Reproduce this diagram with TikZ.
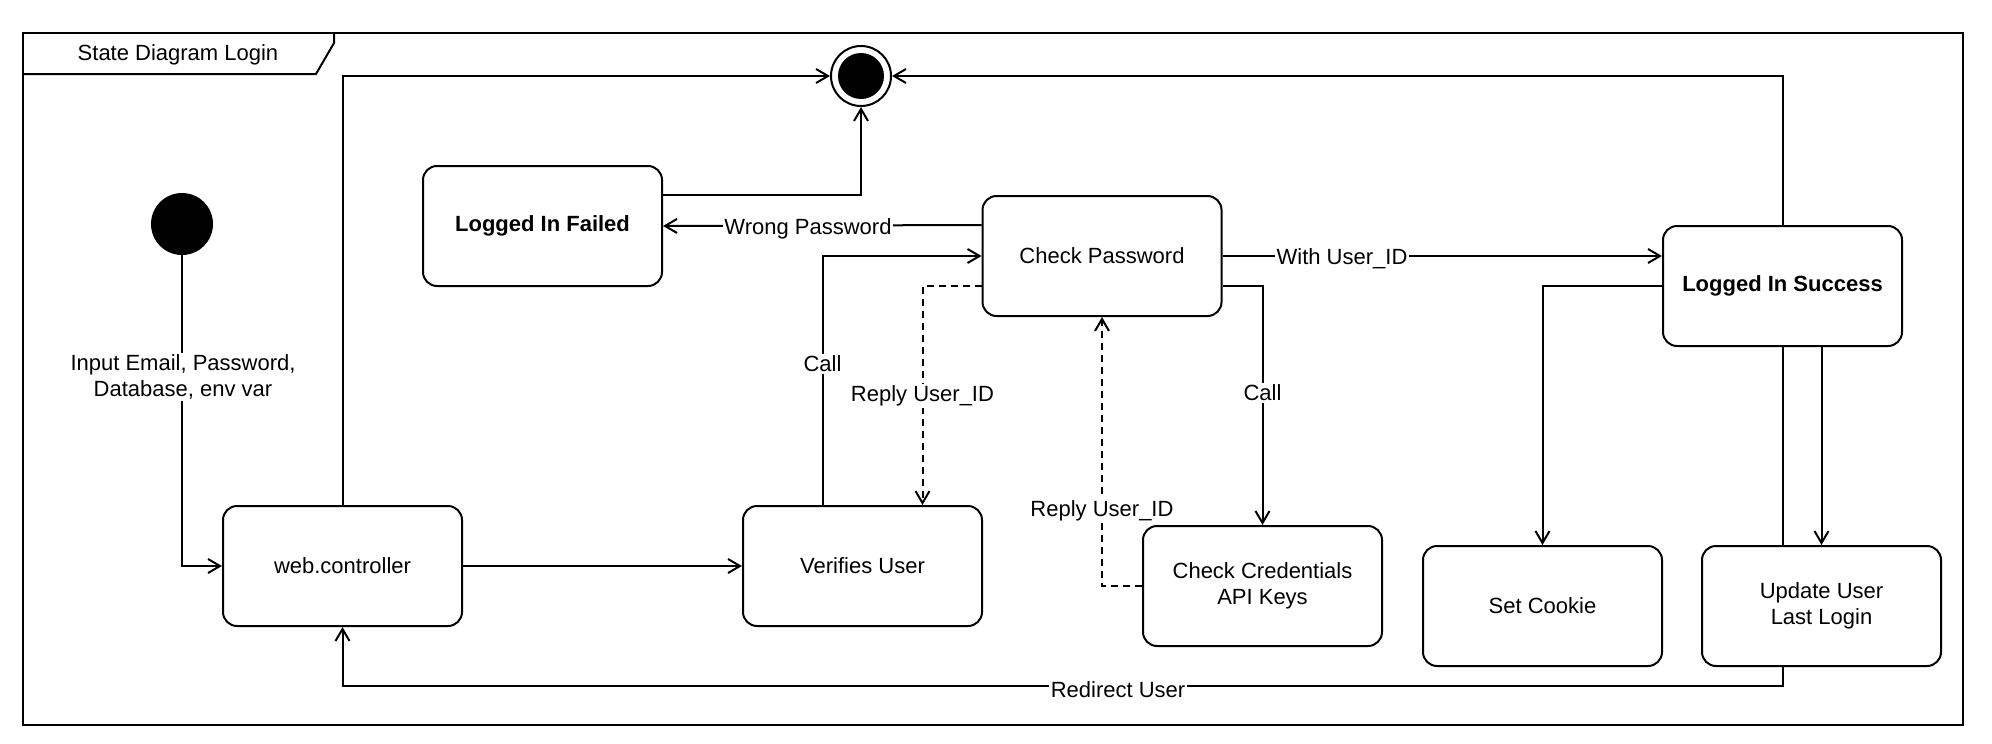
\documentclass[tikz,border=0pt]{standalone}
\usepackage{fontspec}
\setmainfont{Liberation Sans}
\usetikzlibrary{arrows.meta,backgrounds}
\begin{document}
\begin{tikzpicture}[x=1pt,y=-1pt,
  txt/.style={font=\fontsize{22pt}{26pt}\selectfont},
  statebox/.style={txt, draw, line width=2pt, rounded corners=14pt, fill=white, minimum width=239pt, minimum height=120pt, align=center, inner sep=0pt},
  conn/.style={line width=2pt, -{Straight Barb[length=12pt,width=14pt]}},
  dashconn/.style={conn, dash pattern=on 7pt off 5pt},
  lbl/.style={txt, fill=white, inner sep=1.5pt, align=center},
]
\useasboundingbox (0,0) rectangle (1992,744);

% frame
\draw[line width=2pt] (23,33) rectangle (1963,725);
\draw[line width=2pt] (23,74) -- (316,74) -- (334,43) -- (334,33);
\node[txt] (title) at (178,55) {State Diagram Login};

% states
\node[circle, fill=black, minimum size=62pt, inner sep=0pt] (init) at (182,224) {};
\node[circle, draw, line width=2pt, fill=white, minimum size=60pt, inner sep=0pt,
  path picture={\fill[black] (path picture bounding box.center) circle (23pt);}] (fin) at (861,76) {};

\node[statebox] (wc)  at (342.5,566) {web.controller};
\node[statebox] (lif) at (542.5,226) {\bfseries Logged In Failed};
\node[statebox] (cp)  at (1102,256) {Check Password};
\node[statebox] (vu)  at (862.5,566) {Verifies User};
\node[statebox] (cc)  at (1262.5,586) {Check Credentials\\API Keys};
\node[statebox] (lis) at (1782.5,286) {\bfseries Logged In Success};
\node[statebox] (sc)  at (1542.5,606) {Set Cookie};
\node[statebox] (uu)  at (1821.5,606) {Update User\\Last Login};

\coordinate (rdy) at (0,686);

\begin{scope}[on background layer]
\fill[white] (0,0) rectangle (1992,744);
\draw[conn] (init) |- (wc.west);
\draw[conn] (wc.north) |- (fin.west);
\draw[conn] ([yshift=-30pt]lif.north east) -| (fin.south);
\draw[conn] ([yshift=-30pt]cp.north west) -- (lif.east);
\draw[conn] ([xshift=-40pt]vu.north) |- (cp.west);
\draw[dashconn] ([yshift=-30pt]cp.west) -| ([xshift=60pt]vu.north);
\draw[conn] (cp.east) -- ([yshift=30pt]lis.west);
\draw[conn] ([yshift=-30pt]cp.east) -| (cc.north);
\draw[dashconn] (cc.west) -| (cp.south);
\draw[conn] (wc.east) -- (vu.west);
\draw[conn] (lis.north) |- (fin.east);
\draw[conn] (lis.west) -| (sc.north);
\draw[conn] (uu.north |- lis.south) -- (uu.north);
\draw[conn] (lis.south) -- (lis.south |- rdy) -| (wc.south);
\end{scope}

% labels
\node[lbl] (l1) at (183,377) {Input Email, Password,\\Database, env var};
\node[lbl] (l2) at (808,229) {Wrong Password};
\node[lbl] (l3) at (822.5,364) {Call};
\node[lbl] (l4) at (922.5,396) {Reply User\_ID};
\node[lbl] (l5) at (1342,259) {With User\_ID};
\node[lbl] (l6) at (1262.5,393) {Call};
\node[lbl] (l7) at (1102,511) {Reply User\_ID};
\node[lbl] (l8) at (1118,689.5) {Redirect User};
\end{tikzpicture}
\end{document}
